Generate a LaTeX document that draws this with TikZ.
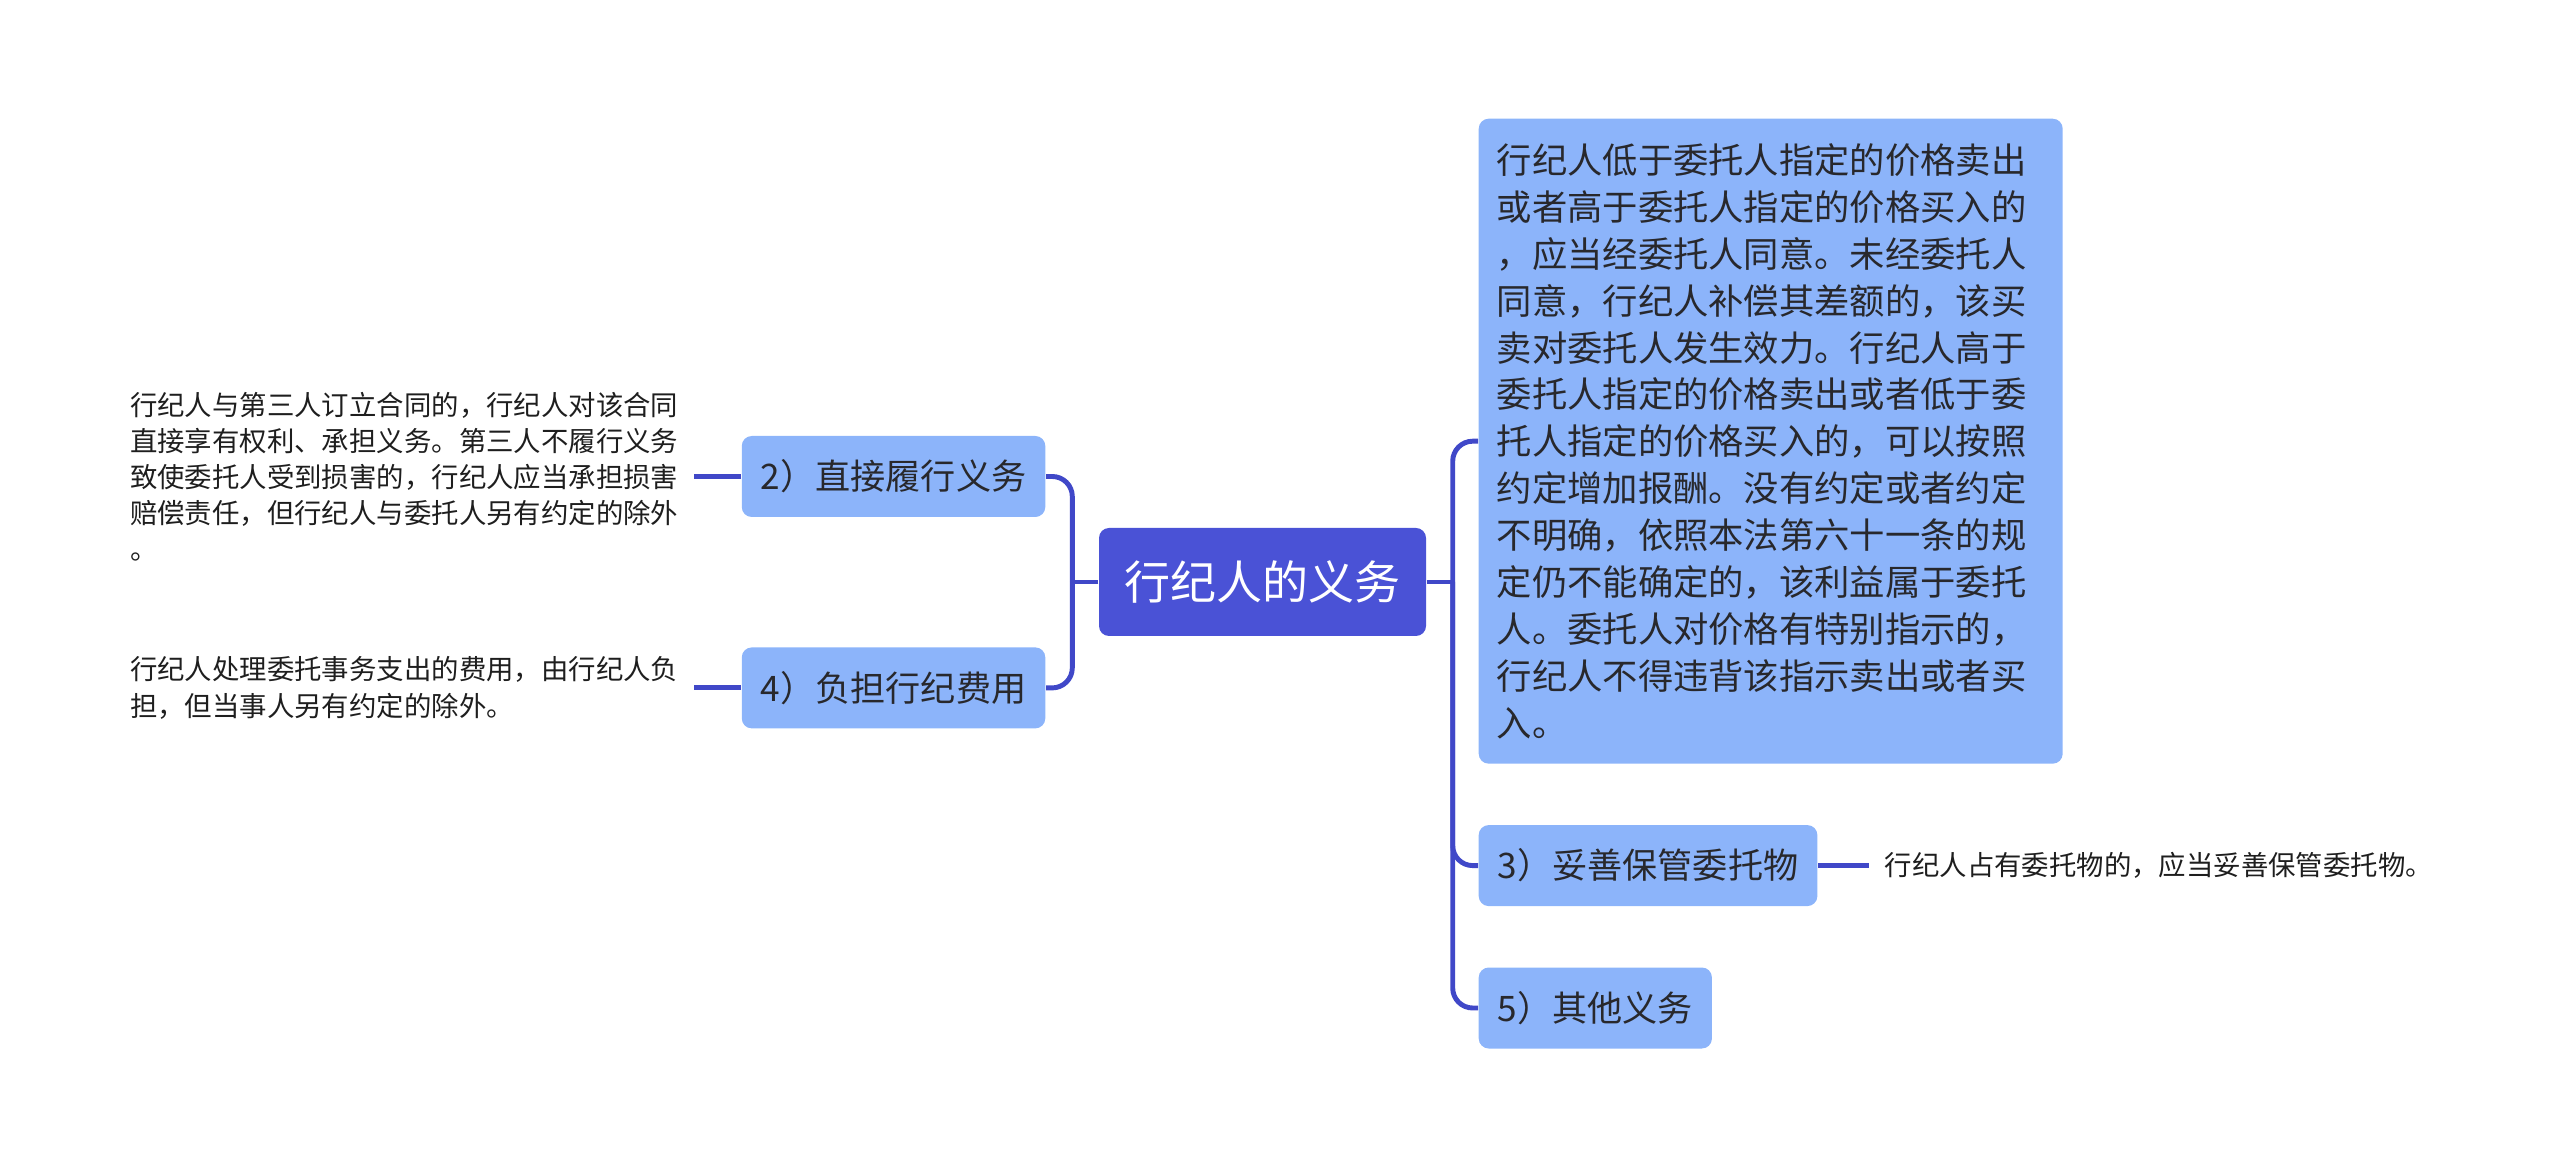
\documentclass[tikz,border=0pt]{standalone}
\usepackage{fontspec}
\setmainfont{Noto Sans CJK SC}
\usetikzlibrary{positioning}

\definecolor{corefill}{RGB}{74,82,214}
\definecolor{topicfill}{RGB}{140,180,250}
\definecolor{linkblue}{RGB}{64,72,200}
\definecolor{textdark}{RGB}{40,40,44}
\definecolor{notedark}{RGB}{30,30,30}

\begin{document}
\begin{tikzpicture}[
  x=0.1mm, y=-0.1mm,
  core/.style   = {fill=corefill, text=white, rounded corners=1mm,
                   minimum width=32.7mm, minimum height=10.8mm, inner sep=0pt,
                   font=\fontsize{13.1}{15}\selectfont},
  topic/.style  = {fill=topicfill, text=textdark, rounded corners=1mm,
                   minimum height=8.1mm, inner xsep=1.9mm, inner ysep=0pt,
                   font=\fontsize{10}{13.2}\selectfont},
  detail/.style = {topic, align=left, text width=54.8mm, minimum height=64.5mm,
                   inner xsep=1.8mm, font=\fontsize{10.05}{13.35}\selectfont},
  note/.style   = {align=left, text=notedark, inner xsep=1.5mm, inner ysep=0pt,
                   font=\fontsize{7.8}{10.25}\selectfont},
  link/.style   = {draw=linkblue, line width=1.4pt},
  elbow/.style  = {link, rounded corners=2mm},
]
\useasboundingbox (0,0) rectangle (2560,1163);

% ----------------------------- centre -------------------------------------
\node[core] (core) at (1262.5,582) {行纪人的义务};
\coordinate (lj) at ([xshift=-2.6mm]core.west);
\coordinate (rj) at ([xshift=2.6mm]core.east);

% ----------------------------- left branches ------------------------------
\node[topic, anchor=east] (dir) at (1046,476.5) {2）直接履行义务};
\node[topic, below=12.9mm of dir] (fee) {4）负担行纪费用};

\node[note, left=4.7mm of dir] (dirnote)
  {行纪人与第三人订立合同的，行纪人对该合同\\
   直接享有权利、承担义务。第三人不履行义务\\
   致使委托人受到损害的，行纪人应当承担损害\\
   赔偿责任，但行纪人与委托人另有约定的除外\\
   。};
\node[note, left=4.7mm of fee] (feenote)
  {行纪人处理委托事务支出的费用，由行纪人负\\
   担，但当事人另有约定的除外。};

% ----------------------------- right branches -----------------------------
\node[detail, anchor=north west] (price) at (1478,118)
  {行纪人低于委托人指定的价格卖出\\
   或者高于委托人指定的价格买入的\\
   ，应当经委托人同意。未经委托人\\
   同意，行纪人补偿其差额的，该买\\
   卖对委托人发生效力。行纪人高于\\
   委托人指定的价格卖出或者低于委\\
   托人指定的价格买入的，可以按照\\
   约定增加报酬。没有约定或者约定\\
   不明确，依照本法第六十一条的规\\
   定仍不能确定的，该利益属于委托\\
   人。委托人对价格有特别指示的，\\
   行纪人不得违背该指示卖出或者买\\
   入。};
\node[topic, below=6mm of price.south west, anchor=north west] (keep)
  {3）妥善保管委托物};
\node[topic, below=6mm of keep.south west, anchor=north west] (misc)
  {5）其他义务};
\node[note, right=5.1mm of keep] (keepnote)
  {行纪人占有委托物的，应当妥善保管委托物。};

% ----------------------------- connectors ---------------------------------
\draw[link] (core.west) -- (lj);
\draw[elbow] (lj) |- (dir.east);
\draw[elbow] (lj) |- (fee.east);
\draw[link] (core.east) -- (rj);
\draw[elbow] (rj) |- (price.west);
\draw[elbow] (rj) |- (keep.west);
\draw[elbow] (rj) |- (misc.west);
\draw[link] (dir.west) -- (dirnote.east);
\draw[link] (fee.west) -- (feenote.east);
\draw[link] (keep.east) -- (keepnote.west);

\end{tikzpicture}
\end{document}
